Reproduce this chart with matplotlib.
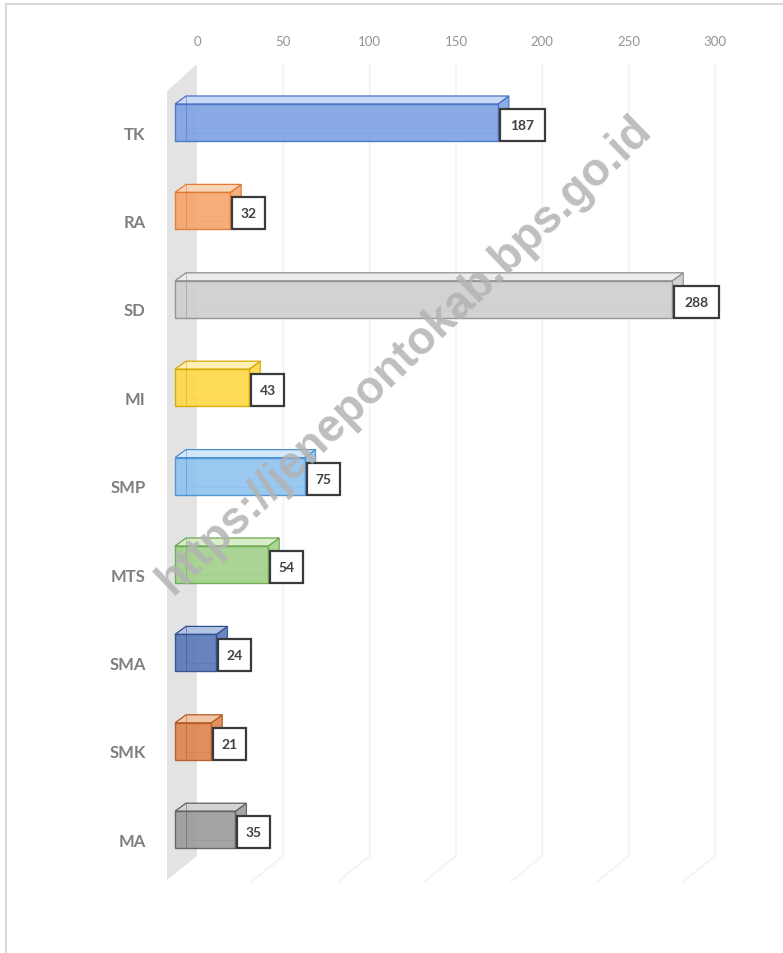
import matplotlib
matplotlib.use("Agg")
import matplotlib.pyplot as plt
from matplotlib.patches import Polygon, Rectangle
from matplotlib.lines import Line2D

categories = ["TK", "RA", "SD", "MI", "SMP", "MTS", "SMA", "SMK", "MA"]
values = [187, 32, 288, 43, 75, 54, 24, 21, 35]
x_ticks = [0, 50, 100, 150, 200, 250, 300]

front_colors = ["#7fa3e3", "#f6a66c", "#cfcfcf", "#ffd94a", "#90c4f0",
                "#a3d18a", "#5b79b8", "#de8550", "#9c9c9c"]
top_colors = ["#cad9f5", "#fbd5b8", "#ececec", "#fff1b5", "#d3e8fa",
              "#d9edcb", "#b3c3e3", "#f2c6a8", "#d4d4d4"]
edge_colors = ["#4a72c4", "#e07a35", "#8f8f8f", "#d4a800", "#4d90d0",
               "#6aa84f", "#2f4f8f", "#b45a22", "#5f5f5f"]

W, H = 783, 954
fig = plt.figure(figsize=(W / 100, H / 100), dpi=100)
fig.patch.set_facecolor("white")

# pixel geometry of the plotting area
X0, X300 = 197, 715
Y_TOP, Y_BOT = 65, 880
CAT0, CAT_STEP = 133, 88.4

ax = fig.add_axes([X0 / W, 1 - Y_BOT / H, (X300 - X0) / W, (Y_BOT - Y_TOP) / H])
ax.set_xlim(0, 300)
ax.set_ylim((Y_BOT - CAT0) / CAT_STEP, (Y_TOP - CAT0) / CAT_STEP)
for s in ax.spines.values():
    s.set_visible(False)

sx = 300 / (X300 - X0)      # data units per pixel (x)
sy = 1 / CAT_STEP           # data units per pixel (y, downwards)

def px(xp, yp):
    return ((xp - X0) * sx, (yp - CAT0) * sy)

# side wall
wall = Polygon([px(167, 92), px(197, 65), px(197, 857), px(167, 881)],
               closed=True, facecolor="#e3e3e3", edgecolor="none",
               clip_on=False, zorder=0)
ax.add_patch(wall)

# gridlines with slanted floor part
for t in x_ticks[1:]:
    xp = X0 + t / sx
    x_a, y_a = px(xp, Y_TOP)
    x_b, y_b = px(xp, 857)
    x_c, y_c = px(xp - 31, 882)
    ax.add_line(Line2D([x_a, x_b, x_c], [y_a, y_b, y_c], color="#f3f3f3",
                       lw=1.3, clip_on=False, zorder=0.5))

# ticks
ax.set_xticks(x_ticks)
ax.set_xticklabels([str(t) for t in x_ticks])
ax.xaxis.tick_top()
ax.tick_params(axis="x", length=0, pad=12, labelsize=9.5, labelcolor="#959595")
ax.set_yticks(range(len(categories)))
ax.set_yticklabels(categories)
ax.tick_params(axis="y", length=0, pad=37, labelsize=12, labelcolor="#7f7f7f")
for lab in ax.get_yticklabels():
    lab.set_fontweight("bold")
for lab in ax.get_xticklabels() + ax.get_yticklabels():
    lab.set_fontfamily("Lato")

# 3D-like bars
DX, DY = 11 * sx, -8 * sy      # depth offset
FX = -22 * sx                  # front face shift
HALF = 18.5 * sy
CY_OFF = -9.5 * sy

for i, (cat, v) in enumerate(zip(categories, values)):
    cy = i + CY_OFF
    xl, xr = FX, v + FX
    yt, yb = cy - HALF, cy + HALF
    ec = edge_colors[i]
    # back edges (seen through)
    ax.add_line(Line2D([xl + DX, xl + DX, xr + DX], [yt + DY, yb + DY, yb + DY],
                       color=ec, lw=0.8, alpha=0.6, clip_on=False, zorder=2))
    # right face
    ax.add_patch(Polygon([(xr, yt), (xr + DX, yt + DY), (xr + DX, yb + DY), (xr, yb)],
                         closed=True, facecolor=front_colors[i], edgecolor=ec,
                         lw=0.9, alpha=0.9, clip_on=False, zorder=2.5))
    # top face
    ax.add_patch(Polygon([(xl, yt), (xl + DX, yt + DY), (xr + DX, yt + DY), (xr, yt)],
                         closed=True, facecolor=top_colors[i], edgecolor=ec,
                         lw=0.9, clip_on=False, zorder=3))
    # front face
    ax.add_patch(Rectangle((xl, yt), xr - xl, yb - yt, facecolor=front_colors[i],
                           edgecolor=ec, lw=1.0, alpha=0.92, clip_on=False, zorder=3))
    # inner back edge visible through front
    ax.add_line(Line2D([xl + DX, xl + DX], [yt + DY, yb], color=ec, lw=0.7,
                       alpha=0.5, clip_on=False, zorder=3.5))
    # value label box
    txt = str(v)
    bw = (45 if len(txt) == 3 else 33) * sx
    bh = 32 * sy
    bx = xr + 2 * sx
    by = cy + 2.5 * sy - bh / 2
    ax.add_patch(Rectangle((bx, by), bw, bh, facecolor="white", edgecolor="#3a3a3a",
                           lw=1.6, clip_on=False, zorder=4))
    ax.text(bx + bw / 2, by + bh / 2, txt, ha="center", va="center",
            fontsize=10, color="#404040", fontfamily="Lato", fontweight="bold",
            zorder=5, clip_on=False)

# watermark
fig.text(405 / W, 1 - 355 / H, "https://jenepontokab.bps.go.id", rotation=44,
         ha="center", va="center", fontsize=33, fontweight="bold",
         color="#b3b3b3", alpha=0.85, fontfamily="Liberation Sans", zorder=10)

# outer frame (top and left)
fig.add_artist(Line2D([6 / W, 1], [1 - 5 / H, 1 - 5 / H], color="#d9d9d9", lw=1.5,
                      transform=fig.transFigure))
fig.add_artist(Line2D([6 / W, 6 / W], [0, 1 - 5 / H], color="#d9d9d9", lw=1.5,
                      transform=fig.transFigure))

fig.savefig("out.png", dpi=100, facecolor="white")
